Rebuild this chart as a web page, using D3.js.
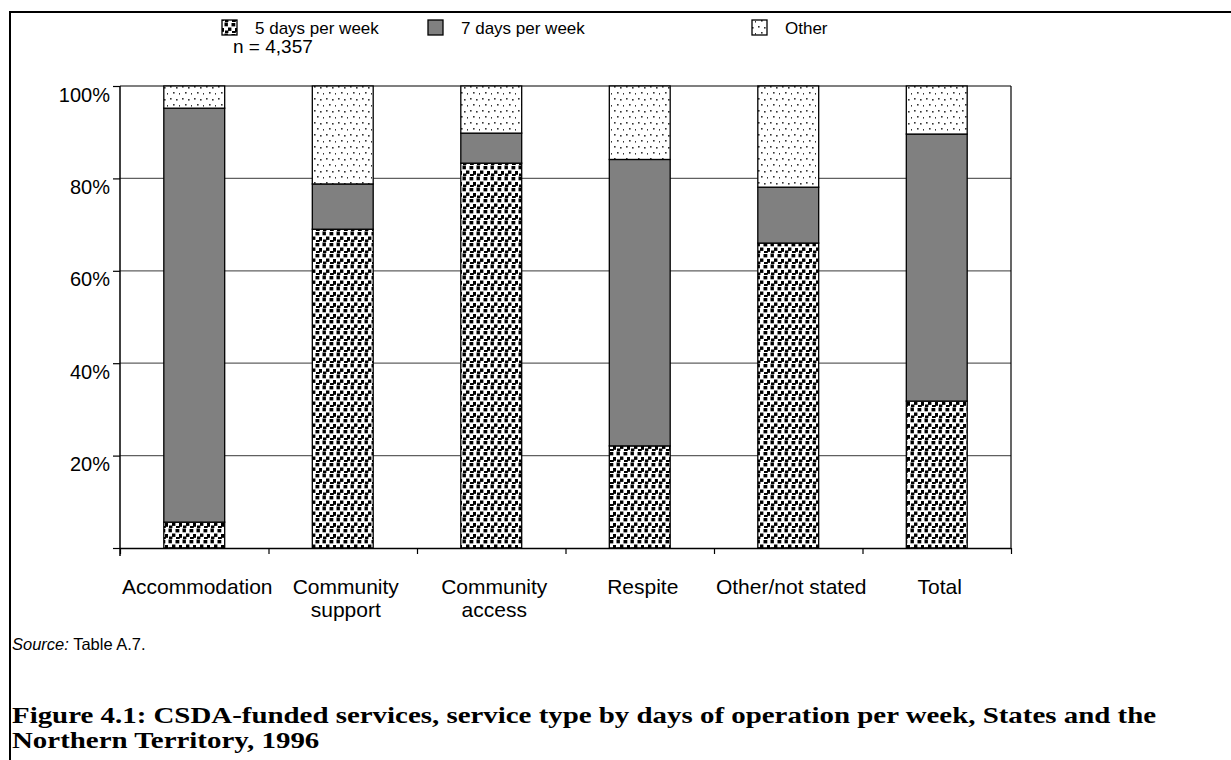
<!DOCTYPE html>
<html><head><meta charset="utf-8">
<script src="https://cdn.jsdelivr.net/npm/d3@7"></script>
<style>body{margin:0;background:#fff} svg{display:block}</style>
</head><body>
<svg id="chart" width="1231" height="760"></svg>
<script>
const categories = ["Accommodation","Community support","Community access","Respite","Other/not stated","Total"];
const categoryLines = [["Accommodation"],["Community","support"],["Community","access"],["Respite"],["Other/not stated"],["Total"]];
const fiveDays = [5.6, 69.0, 83.3, 22.1, 66.0, 31.8];
const sevenDays = [89.6, 9.8, 6.5, 62.0, 12.1, 57.8];
const otherDays = [4.8, 21.2, 10.2, 15.9, 21.9, 10.4];
const seriesNames = ["5 days per week","7 days per week","Other"];
const yTicks = [0,20,40,60,80,100];
const nLabel = "n = 4,357";
const sourceLabel = "Table A.7.";
const titleLines = ["Figure 4.1: CSDA-funded services, service type by days of operation per week, States and the","Northern Territory, 1996"];

(function(){
const svg = d3.select("#chart");
const sans = "'Liberation Sans', Arial, sans-serif";
const serif = "'Liberation Serif', 'Times New Roman', serif";

// patterns
const defs = svg.append("defs");
const p5 = defs.append("pattern").attr("id","p5").attr("patternUnits","userSpaceOnUse").attr("width",14).attr("height",11);
p5.append("rect").attr("width",14).attr("height",11).attr("fill","#fff");
[[0.5,0.5],[7.5,1],[4,5.5],[11,6],[1,8.5],[8,9]].forEach(([a,b],i)=>{
  p5.append("rect").attr("x",a).attr("y",b).attr("width",i%2?3.8:3.4).attr("height",i%3?3.4:3.8).attr("fill","#000");
});
const pO = defs.append("pattern").attr("id","pO").attr("patternUnits","userSpaceOnUse").attr("width",12).attr("height",12);
pO.append("rect").attr("width",12).attr("height",12).attr("fill","#fff");
[[2,2],[8,3],[5,8],[11,9]].forEach(([a,b])=>{
  pO.append("rect").attr("x",a).attr("y",b).attr("width",1.6).attr("height",1.6).attr("fill","#333");
});
const fills = ["url(#p5)","#808080","url(#pO)"];

// frame
svg.append("path").attr("d","M10,760V12H1231").attr("fill","none").attr("stroke","#000").attr("stroke-width",2);

const pLeft = 120, pRight = 1011, pTop = 86, pBottom = 548;
const x = d3.scaleBand().domain(categories).range([pLeft,pRight]).paddingInner(0.59).paddingOuter(0.295);
const y = d3.scaleLinear().domain([0,100]).range([pBottom,pTop]);

// gridlines
svg.append("g").selectAll("line").data([20,40,60,80]).join("line")
  .attr("x1",pLeft).attr("x2",pRight).attr("y1",d=>y(d)).attr("y2",d=>y(d))
  .attr("stroke","#606060").attr("stroke-width",1.2);
svg.append("line").attr("x1",pLeft).attr("x2",pRight).attr("y1",y(100)).attr("y2",y(100)).attr("stroke","#000").attr("stroke-width",1.2);
svg.append("line").attr("x1",pRight).attr("x2",pRight).attr("y1",y(100)).attr("y2",y(0)).attr("stroke","#000").attr("stroke-width",1.2);

// stacked bars
const table = categories.map((c,i)=>({cat:c, five:fiveDays[i], seven:sevenDays[i], other:otherDays[i]}));
const stack = d3.stack().keys(["five","seven","other"])(table);
stack.forEach((layer,li)=>{
  svg.append("g").selectAll("rect").data(layer).join("rect")
    .attr("x",d=>x(d.data.cat)).attr("width",x.bandwidth())
    .attr("y",d=>y(d[1])).attr("height",d=>y(d[0])-y(d[1]))
    .attr("fill",fills[li]).attr("stroke","#000").attr("stroke-width",1.3);
});

// y axis
const yAxis = svg.append("g").attr("transform",`translate(${pLeft},0)`)
  .call(d3.axisLeft(y).tickValues(yTicks).tickSize(7).tickPadding(3).tickFormat(d=>d===0?"":d+"%"));
yAxis.select(".domain").remove();
yAxis.selectAll(".tick line").attr("stroke","#000").attr("stroke-width",1.2);
yAxis.selectAll("text").attr("font-family",sans).attr("font-size",20).attr("fill","#000").attr("dy","0.75em");
svg.append("line").attr("x1",pLeft).attr("x2",pLeft).attr("y1",pTop).attr("y2",pBottom+8).attr("stroke","#000").attr("stroke-width",1.5);

// x axis
const xb = d3.scaleLinear().domain([0,categories.length]).range([pLeft,pRight]);
const xAxis = svg.append("g").attr("transform",`translate(0,${pBottom})`)
  .call(d3.axisBottom(xb).tickValues(d3.range(categories.length+1)).tickSize(6).tickFormat(""));
xAxis.select(".domain").attr("d",`M${pLeft},0.5H${pRight}`).attr("stroke","#000").attr("stroke-width",1.5);
xAxis.selectAll(".tick line").attr("stroke","#000").attr("stroke-width",1.2);

// category labels
const cl = svg.append("g").selectAll("text").data(categories).join("text")
  .attr("x",d=>x(d)+x.bandwidth()/2+3).attr("y",594)
  .attr("text-anchor","middle").attr("font-family",sans).attr("font-size",21).attr("fill","#000");
cl.each(function(d,i){
  const t = d3.select(this);
  categoryLines[i].forEach((ln,j)=>t.append("tspan").attr("x",x(d)+x.bandwidth()/2+3).attr("dy",j?"1.1em":0).text(ln));
});

// legend
const legX = [222,428,752];
seriesNames.forEach((s,i)=>{
  svg.append("rect").attr("x",legX[i]).attr("y",20).attr("width",15).attr("height",15)
    .attr("fill",fills[i]).attr("stroke","#000").attr("stroke-width",1.3);
  svg.append("text").attr("x",legX[i]+33).attr("y",34).attr("font-family",sans).attr("font-size",17).text(s);
});
svg.append("text").attr("x",233).attr("y",53).attr("font-family",sans).attr("font-size",19).text(nLabel);

// source
const src = svg.append("text").attr("x",12).attr("y",650).attr("font-family",sans).attr("font-size",16.5);
src.append("tspan").attr("font-style","italic").text("Source:");
src.append("tspan").text(" "+sourceLabel);

// title (widened print face)
svg.append("g").attr("transform","translate(12,0) scale(1.23,1)")
  .selectAll("text").data(titleLines).join("text")
  .attr("x",0).attr("y",(d,i)=>723+i*25)
  .attr("font-family",serif).attr("font-weight","bold").attr("font-size",23.5).text(d=>d);
})();
</script>
</body></html>
